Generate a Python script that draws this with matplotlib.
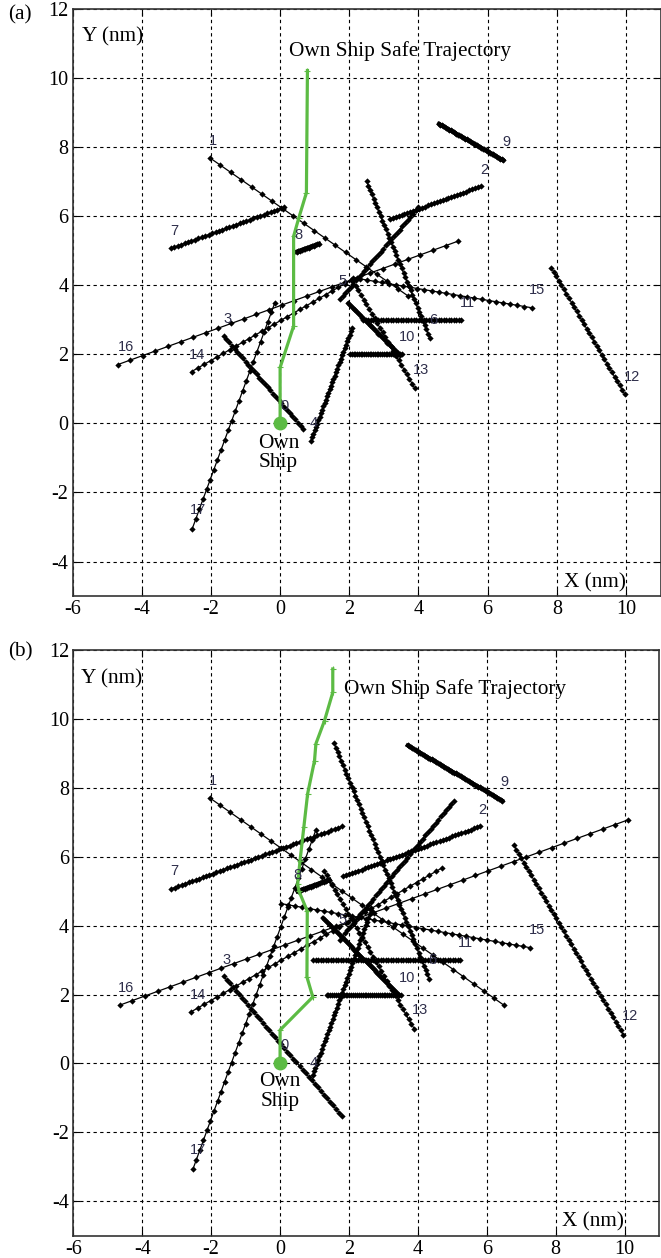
import numpy as np
import matplotlib
matplotlib.use('Agg')
import matplotlib.pyplot as plt

plt.rcParams['font.family'] = ['Liberation Serif', 'DejaVu Serif']
plt.rcParams['axes.unicode_minus'] = False

# target ship tracks: id, start (x0, y0), end (x1, y1), number of samples
ids = ['1', '7', '2', '9', '5', '15', '16', '14', '3', '17', '4', '8', '10', 'h2', '13', '6', '11', '12']

a_x0 = [-2.03, -3.16, 3.17, 4.59, 1.73, 7.27, -4.70, -2.56, -1.63, -2.54, 0.89, 0.48, 1.97, 2.02, 3.89, 2.40, 2.50, 7.84]
a_y0 = [7.69, 5.07, 5.91, 8.68, 3.59, 3.35, 1.70, 1.50, 2.53, -3.05, -0.50, 4.97, 3.48, 2.00, 1.02, 3.00, 7.01, 4.51]
a_x1 = [3.70, 0.12, 5.80, 6.45, 4.00, 2.11, 5.15, 2.05, 0.67, -0.15, 2.08, 1.12, 3.46, 3.51, 2.11, 5.24, 4.33, 9.96]
a_y1 = [3.69, 6.26, 6.87, 7.62, 6.26, 4.22, 5.28, 4.15, -0.16, 3.50, 2.77, 5.20, 1.98, 2.00, 4.12, 3.00, 2.47, 0.85]
a_n = [20, 34, 32, 45, 30, 26, 28, 26, 30, 24, 34, 14, 30, 30, 24, 40, 37, 30]

b_x0 = [-2.03, -3.16, 1.82, 3.70, 1.73, 7.26, -4.66, -2.58, -1.64, -2.53, 0.95, 0.51, 1.24, 1.35, 3.89, 0.97, 1.57, 6.79]
b_y0 = [7.70, 5.07, 5.43, 9.23, 3.59, 3.36, 1.69, 1.50, 2.53, -3.07, -0.34, 5.00, 4.23, 2.00, 1.01, 3.00, 9.29, 6.33]
b_x1 = [6.50, 1.79, 5.81, 6.45, 5.05, 0.03, 10.10, 4.71, 1.80, 1.04, 2.64, 1.43, 3.41, 3.50, 1.27, 5.23, 4.33, 9.96]
b_y1 = [1.69, 6.88, 6.89, 7.63, 7.63, 4.64, 7.07, 5.68, -1.53, 6.78, 4.44, 5.33, 2.03, 2.00, 5.60, 3.00, 2.46, 0.84]
b_n = [30, 50, 45, 60, 45, 36, 41, 40, 40, 36, 45, 18, 40, 40, 34, 60, 55, 45]

# ship number labels
lab_text = ['1', '7', '2', '9', '5', '15', '11', '16', '14', '3', '17', '4', '8', '10', '13', '6', '12', '0']
a_lab_x = [-1.93, -3.06, 5.89, 6.53, 1.79, 7.44, 5.41, -4.47, -2.39, -1.53, -2.37, 0.98, 0.53, 3.68, 4.07, 4.42, 10.16, 0.12]
a_lab_y = [8.17, 5.57, 7.35, 8.15, 4.12, 3.85, 3.50, 2.20, 1.98, 3.02, -2.52, 0.00, 5.47, 2.49, 1.54, 2.99, 1.35, 0.51]
b_lab_x = [-1.95, -3.08, 5.87, 6.52, 1.82, 7.45, 5.39, -4.46, -2.37, -1.54, -2.39, 0.97, 0.51, 3.68, 4.07, 4.42, 10.15, 0.13]
b_lab_y = [8.19, 5.58, 7.36, 8.16, 4.17, 3.86, 3.50, 2.20, 1.98, 3.01, -2.51, 0.00, 5.46, 2.49, 1.55, 3.00, 1.37, 0.53]

# own ship safe trajectory
a_own_x = [0, 0, 0.39, 0.39, 0.54, 0.76, 0.79]
a_own_y = [0, 1.62, 2.82, 5.42, 5.95, 6.68, 10.22]
b_own_x = [0, 0, 0.95, 0.78, 0.79, 0.55, 0.51, 0.58, 0.69, 0.80, 1.00, 1.04, 1.29, 1.53, 1.53]
b_own_y = [0, 0.97, 1.93, 2.51, 4.42, 5.00, 5.20, 5.89, 6.86, 7.83, 8.79, 9.28, 9.95, 10.77, 11.45]

thick = {'9': 2.8, '8': 3.2, '10': 2.4}
green = '#5cbb44'
lab_color = '#2e2e4a'


def draw_panel(ax, x0, y0, x1, y1, n, lab_x, lab_y, own_x, own_y, title_xy, ownlab_xy, ylab_xy, xlab_xy):
    for k in range(len(ids)):
        xs = np.linspace(x0[k], x1[k], n[k])
        ys = np.linspace(y0[k], y1[k], n[k])
        lw = thick.get(ids[k], 0.9)
        ax.plot(xs, ys, color='black', lw=lw, marker='D', ms=3.2, mew=0, zorder=3)
    for t, lx, ly in zip(lab_text, lab_x, lab_y):
        ax.text(lx, ly, t, fontsize=10.5, color=lab_color, ha='center', va='center',
                family=['Liberation Sans Narrow', 'Liberation Sans', 'DejaVu Sans'], zorder=5)
    ax.plot(own_x, own_y, color=green, lw=2.3, marker='+', ms=4, mew=0.8, zorder=4)
    ax.plot([0], [0], 'o', color=green, ms=9, zorder=5)
    ax.text(title_xy[0], title_xy[1], 'Own Ship Safe Trajectory', fontsize=15.3, ha='left', va='center')
    ax.text(ownlab_xy[0], ownlab_xy[1], 'Own\nShip', fontsize=15.3, ha='center', va='center', linespacing=1.05)
    ax.text(ylab_xy[0], ylab_xy[1], 'Y (nm)', fontsize=15.3, ha='left', va='center')
    ax.text(xlab_xy[0], xlab_xy[1], 'X (nm)', fontsize=15.3, ha='left', va='center')

    ax.set_xlim(-6, 11)
    ax.set_ylim(-5, 12)
    ax.set_xticks(np.arange(-6, 11, 2))
    ax.set_yticks(np.arange(-4, 13, 2))
    ax.grid(True, color='black', linestyle=(0, (3, 3)), lw=0.8)
    ax.tick_params(direction='in', top=True, right=True, length=5, labelsize=14.5, pad=3)
    for s in ax.spines.values():
        s.set_linewidth(1.2)
        s.set_color('#333333')


fig = plt.figure(figsize=(6.61, 12.58), dpi=100)
ax_a = fig.add_axes([0.1098, 0.5262, 0.8896, 0.4666])
ax_b = fig.add_axes([0.1110, 0.0177, 0.8860, 0.4656])

draw_panel(ax_a, a_x0, a_y0, a_x1, a_y1, a_n, a_lab_x, a_lab_y, a_own_x, a_own_y,
           (0.27, 10.77), (-0.05, -0.86), (-5.74, 11.2), (8.22, -4.61))
draw_panel(ax_b, b_x0, b_y0, b_x1, b_y1, b_n, b_lab_x, b_lab_y, b_own_x, b_own_y,
           (1.86, 10.88), (0.0, -0.82), (-5.77, 11.17), (8.17, -4.6))

fig.text(8 / 661, 1 - 15 / 1258, '(a)', fontsize=15.3, ha='left', va='center')
fig.text(8 / 661, 1 - 652 / 1258, '(b)', fontsize=15.3, ha='left', va='center')

fig.savefig('out.png', dpi=100)
